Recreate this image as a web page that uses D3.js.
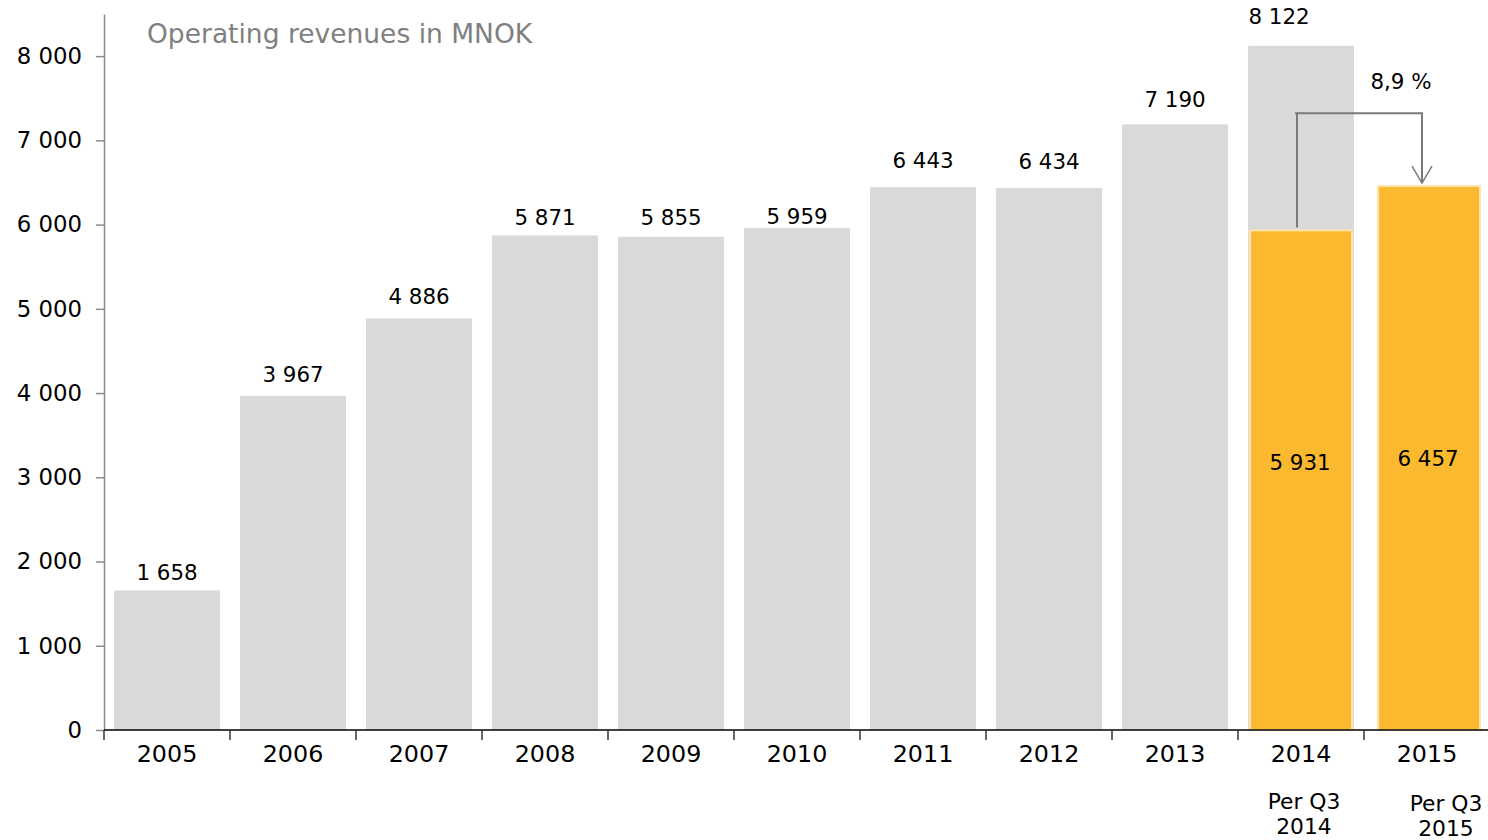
<!DOCTYPE html>
<html>
<head>
<meta charset="utf-8">
<script src="https://cdn.jsdelivr.net/npm/d3@7"></script>
<style>
  html, body { margin: 0; padding: 0; background: #fff; }
  svg { display: block; font-family: "DejaVu Sans", Verdana, sans-serif; }
</style>
</head>
<body>
<svg id="chart" width="1488" height="840"></svg>
<script>
// Operating revenues (MNOK) per year
const years = ["2005", "2006", "2007", "2008", "2009", "2010", "2011", "2012", "2013", "2014", "2015"];
const fullYear = [1658, 3967, 4886, 5871, 5855, 5959, 6443, 6434, 7190, 8122, null];
const perQ3 = [null, null, null, null, null, null, null, null, null, 5931, 6457];
const subLabels = [null, null, null, null, null, null, null, null, null, ["Per Q3", "2014"], ["Per Q3", "2015"]];
const yTicks = [0, 1000, 2000, 3000, 4000, 5000, 6000, 7000, 8000];
const growthLabel = "8,9 %";
const title = "Operating revenues in MNOK";

// hand-placed gap (px) between each bar top and its value label, and sideways nudge
const labelGap = [18, 21, 22, 18, 19, 12, 27, 27, 25, 29, 0];
const labelNudge = [0, 0, 0, 0, 0, 0, 0, 0, 0, -22, 0];

const fmt = v => d3.format(",")(v).replace(/,/g, " ");

const svg = d3.select("#chart");
const left = 104, right = 1490, zeroY = 730;

const x = d3.scaleBand().domain(years).range([left, right]).paddingInner(0.16).paddingOuter(0.08);
const xb = d3.scaleBand().domain(years).range([left, right]); // full category bands for tick marks
const y = d3.scaleLinear().domain([0, 8500]).range([zeroY, 14]);

const GREY = "#d9d9d9", ORANGE = "#fbb92f";

// y axis
const yAxis = svg.append("g").attr("transform", `translate(${left},0)`)
  .call(d3.axisLeft(y).tickValues(yTicks).tickFormat(fmt).tickSize(8).tickSizeOuter(0));
yAxis.select(".domain").attr("stroke", "#8c8c8c").attr("stroke-width", 1.5);
yAxis.selectAll(".tick line").attr("stroke", "#8c8c8c").attr("stroke-width", 1.5);
yAxis.selectAll(".tick text").attr("font-size", 22.8).attr("fill", "#000").attr("x", -22)
  .attr("font-family", "DejaVu Sans");

// title
svg.append("text").attr("x", 147).attr("y", 43).attr("font-size", 26.5).attr("fill", "#808080").text(title);

// full-year bars
const gBars = svg.append("g");
years.forEach((yr, i) => {
  if (fullYear[i] == null) return;
  gBars.append("rect").attr("x", x(yr)).attr("width", x.bandwidth())
    .attr("y", y(fullYear[i])).attr("height", y(0) - y(fullYear[i])).attr("fill", GREY);
  gBars.append("text").attr("x", x(yr) + x.bandwidth() / 2 + labelNudge[i]).attr("y", y(fullYear[i]) - labelGap[i])
    .attr("dy", "0.35em").attr("text-anchor", "middle").attr("font-size", 21.4).attr("fill", "#000")
    .text(fmt(fullYear[i]));
});

// year-to-date (per Q3) bars
years.forEach((yr, i) => {
  if (perQ3[i] == null) return;
  const shift = i === years.length - 1 ? 2 : 0;
  gBars.append("rect").attr("x", x(yr) + 2 + shift).attr("width", x.bandwidth() - 4)
    .attr("y", y(perQ3[i])).attr("height", y(0) - y(perQ3[i]))
    .attr("fill", ORANGE).attr("stroke", "#fde3a8").attr("stroke-width", 2);
  const midY = fullYear[i] != null ? (y(perQ3[i]) + y(0)) / 2 - 18 : (y(perQ3[i]) + y(0)) / 2;
  gBars.append("text").attr("x", x(yr) + x.bandwidth() / 2 + shift - 1).attr("y", midY)
    .attr("dy", "0.35em").attr("text-anchor", "middle").attr("font-size", 21.4).attr("fill", "#000")
    .text(fmt(perQ3[i]));
});

// x axis
const xAxis = svg.append("g").attr("transform", `translate(0,${zeroY})`);
xAxis.append("line").attr("x1", left).attr("x2", right).attr("stroke", "#000").attr("stroke-width", 1.5);
years.forEach(yr => {
  xAxis.append("line").attr("x1", xb(yr)).attr("x2", xb(yr)).attr("y1", 0).attr("y2", 10)
    .attr("stroke", "#333").attr("stroke-width", 1.5);
  xAxis.append("text").attr("x", xb(yr) + xb.bandwidth() / 2).attr("y", 32)
    .attr("text-anchor", "middle").attr("font-size", 23.8).attr("fill", "#000").text(yr);
});
years.forEach((yr, i) => {
  if (!subLabels[i]) return;
  const cx = xb(yr) + xb.bandwidth() / 2 + (i === years.length - 1 ? 19 : 3);
  subLabels[i].forEach((line, k) => {
    xAxis.append("text").attr("x", cx).attr("y", 79 + k * 25 + (i === years.length - 1 ? 2 : 0))
      .attr("text-anchor", "middle").attr("font-size", 21.8).attr("fill", "#000").text(line);
  });
});

// growth arrow from 2014 per Q3 to 2015 per Q3
const i14 = years.indexOf("2014"), i15 = years.indexOf("2015");
const ax1 = x("2014") + x.bandwidth() / 2 - 4;
const ax2 = x("2015") + x.bandwidth() / 2 - 5;
const topY = y(7000) - 27;
svg.append("path")
  .attr("d", `M${ax1},${y(perQ3[i14]) - 3} V${topY} M${ax1 - 2},${topY} H${ax2} V${y(perQ3[i15]) - 3}`)
  .attr("fill", "none").attr("stroke", "#7a7a7a").attr("stroke-width", 2);
svg.append("path")
  .attr("d", `M${ax2 - 10},${y(perQ3[i15]) - 20} L${ax2},${y(perQ3[i15]) - 3} L${ax2 + 10},${y(perQ3[i15]) - 20}`)
  .attr("fill", "none").attr("stroke", "#7a7a7a").attr("stroke-width", 1.5);
svg.append("text").attr("x", ax2 - 21).attr("y", 89).attr("text-anchor", "middle")
  .attr("font-size", 21.4).attr("fill", "#000").text(growthLabel);
</script>
</body>
</html>
